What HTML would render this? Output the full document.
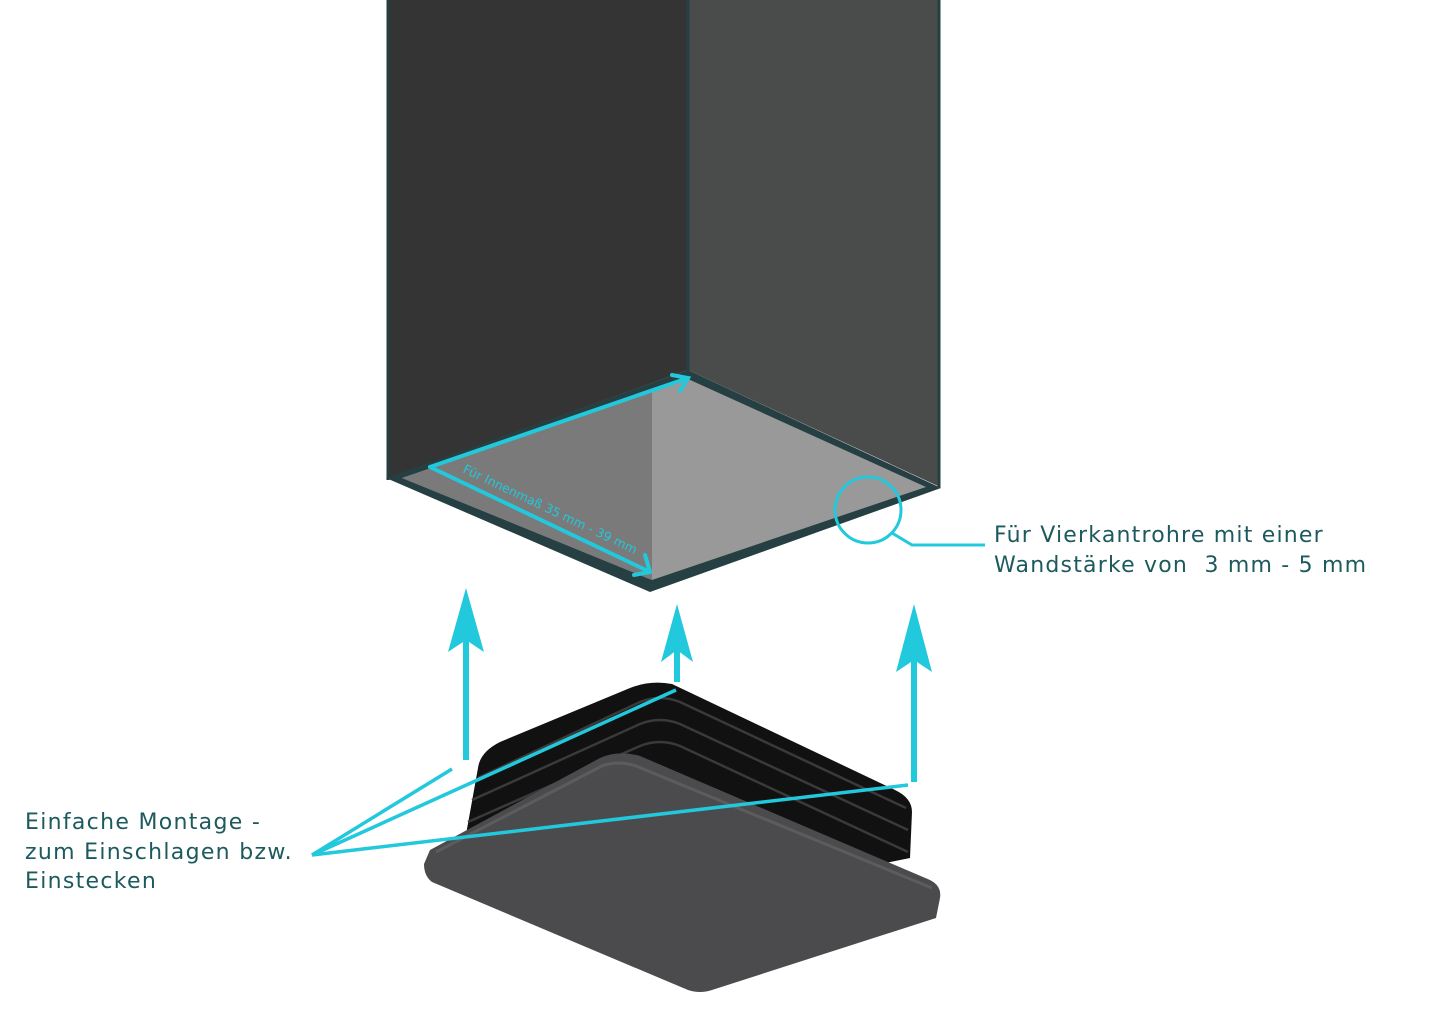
<!DOCTYPE html>
<html><head><meta charset="utf-8"><style>
html,body{margin:0;padding:0;background:#fff;}
svg{display:block}
text{font-family:"DejaVu Sans","Liberation Sans",sans-serif;fill:#1d5a5e;white-space:pre}
</style></head><body>
<svg width="1445" height="1034" viewBox="0 0 1445 1034" xmlns="http://www.w3.org/2000/svg">
<!-- tube -->
<polygon points="388,0 688,0 688,370 388,478" fill="#343434"/>
<polygon points="688,0 940,0 940,487 688,370" fill="#4a4c4b"/>
<line x1="688" y1="0" x2="688" y2="372" stroke="#263f42" stroke-width="3"/>
<line x1="388" y1="0" x2="388" y2="480" stroke="#263f42" stroke-width="3"/>
<line x1="939" y1="0" x2="939" y2="488" stroke="#263f42" stroke-width="3"/>
<polygon points="386,478 650,592 941,488 688,370" fill="#263f42"/>
<polygon points="402,478 652,580 926,487 688,379 652,392" fill="#999999"/>
<polygon points="402,478 652,580 652,392" fill="#7a7a7a"/>
<polygon points="402,478 652,392 688,379" fill="#7e7e7e"/>
<!-- floor arrows -->
<g stroke="#22c8dc" stroke-width="4" fill="none" stroke-linecap="round">
<line x1="430" y1="467" x2="688" y2="378"/>
<polyline points="672,375 688,378 680,391"/>
<line x1="430" y1="467" x2="650" y2="572"/>
<polyline points="645,555 650,572 634,575"/>
</g>
<text x="0" y="0" font-size="12.5" style="fill:#22c8dc" transform="translate(462,472) rotate(25.5)">Für Innenmaß 35 mm - 39 mm</text>
<!-- circle callout -->
<circle cx="868" cy="510" r="33" fill="none" stroke="#22c8dc" stroke-width="3"/>
<polyline points="892,533 912,545 985,545" fill="none" stroke="#22c8dc" stroke-width="3"/>
<text x="994" y="542" font-size="22" letter-spacing="1.2">Für Vierkantrohre mit einer</text>
<text x="994" y="572" font-size="22" letter-spacing="1.2">Wandstärke von  3 mm - 5 mm</text>
<!-- cap body -->
<path d="M478,768 Q480,752 500,742 L630,688 Q650,680 672,684 L895,790 Q912,798 912,812 L910,858 L700,900 L465,840 Z" fill="#111"/>
<g fill="none" stroke="#3a3a3a" stroke-width="2.5">
<path d="M478,778 L640,702 Q660,694 680,702 L906,808"/>
<path d="M472,800 L640,724 Q660,716 680,724 L908,830"/>
<path d="M468,822 L640,746 Q660,738 680,746 L908,852"/>
</g>
<!-- cap face -->
<path d="M430,850 L600,758 Q618,750 640,756 L930,880 Q942,886 940,898 L936,918 L712,990 Q700,994 688,990 L432,882 Q424,876 424,864 Z" fill="#4b4b4d"/>
<path d="M436,852 L602,766 Q618,760 636,766 L932,888" fill="none" stroke="#5c5c5e" stroke-width="3"/>
<!-- up arrows -->
<g fill="#22c8dc">
<rect x="463" y="630" width="6" height="130"/>
<polygon points="466,588 448,652 466,640 484,652"/>
<rect x="674" y="640" width="6" height="42"/>
<polygon points="677,604 661,662 677,650 693,662"/>
<rect x="911" y="640" width="6" height="142"/>
<polygon points="914,604 896,672 914,660 932,672"/>
</g>
<!-- leader lines -->
<g stroke="#22c8dc" stroke-width="3.5" fill="none">
<line x1="312" y1="855" x2="452" y2="769"/>
<line x1="312" y1="855" x2="676" y2="690"/>
<line x1="312" y1="855" x2="908" y2="785"/>
</g>
<text x="25" y="829" font-size="22" letter-spacing="1.3">Einfache Montage -</text>
<text x="25" y="859" font-size="22" letter-spacing="1.3">zum Einschlagen bzw.</text>
<text x="25" y="888" font-size="22" letter-spacing="1.3">Einstecken</text>
</svg>
</body></html>
